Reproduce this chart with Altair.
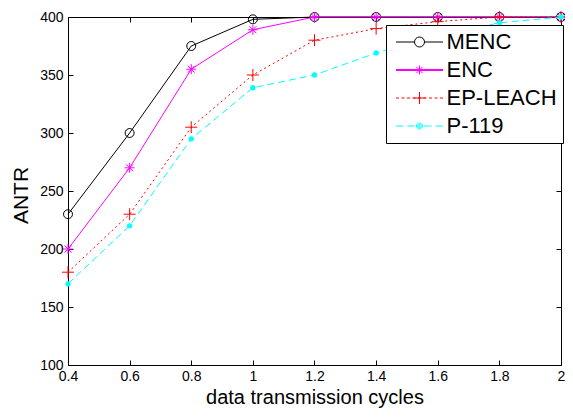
import altair as alt
import pandas as pd

# ---------------- data ----------------
x_vals = [0.4, 0.6, 0.8, 1.0, 1.2, 1.4, 1.6, 1.8, 2.0]
series_names = ["MENC", "ENC", "EP-LEACH", "P-119"]
menc = [230, 300, 375, 398, 400, 400, 400, 400, 400]
enc = [200, 270, 355, 389, 400, 400, 400, 400, 400]
ep_leach = [180, 230, 305, 350, 380, 390, 396, 400, 400]
p119 = [170, 220, 295, 339, 350, 369, 384, 395, 400]
x_ticks = [0.4, 0.6, 0.8, 1.0, 1.2, 1.4, 1.6, 1.8, 2.0]
y_ticks = [100, 150, 200, 250, 300, 350, 400]
x_title = "data transmission cycles"
y_title = "ANTR"

values = [menc, enc, ep_leach, p119]
rows = []
for name, vals in zip(series_names, values):
    for xv, yv in zip(x_vals, vals):
        rows.append({"x": xv, "y": yv, "series": name})
df = pd.DataFrame(rows)

FONT = "Liberation Sans"
W, H = 493, 348

# ---------------- styles ----------------
colors = {"MENC": "#000000", "ENC": "#ff00ff", "EP-LEACH": "#ff0000", "P-119": "#00ffff"}
dashes = {"MENC": None, "ENC": None, "EP-LEACH": [2, 3], "P-119": [7, 4]}

ASTER = "M-1,0L1,0M0,-1L0,1M-0.7,-0.7L0.7,0.7M-0.7,0.7L0.7,-0.7"
PLUS = "M-1,0L1,0M0,-1L0,1"


def circle(r):
    return "M%.2f,0A%.2f,%.2f 0 1,1 -%.2f,0A%.2f,%.2f 0 1,1 %.2f,0Z" % (r, r, r, r, r, r, r)


def dash_path(x0, x1, dash, gap):
    out = []
    s = x0
    while s < x1:
        e = min(s + dash, x1)
        out.append("M%.2f,0L%.2f,0" % (s, e))
        s += dash + gap
    return "".join(out)


# legend symbols: 1 unit = 5 px (symbolSize 100)
L = 4.7
leg_menc = "M-%.1f,0L-1,0M1,0L%.1f,0" % (L, L) + circle(1.0)
leg_enc = "M-%.1f,-0.1L%.1f,-0.1M-%.1f,0.1L%.1f,0.1" % (L, L, L, L) + \
    "M-0.9,0L0.9,0M0,-0.9L0,0.9M-0.64,-0.64L0.64,0.64M-0.64,0.64L0.64,-0.64"
leg_ep = dash_path(-L, L, 0.6, 0.5) + "M-1.2,0L1.2,0M0,-1.2L0,1.2"
leg_p = "M-4.7,0L-3.2,0M-2.4,0L-0.9,0M0.9,0L2.4,0M3.2,0L4.7,0" + \
    circle(0.6) + circle(0.35) + circle(0.12)

xscale = alt.Scale(domain=[0.4, 2.0], nice=False, zero=False)
yscale = alt.Scale(domain=[100, 400], nice=False, zero=False)

ax_bottom = alt.Axis(orient="bottom", values=x_ticks, format="~g", offset=-5, tickSize=5,
                     domain=False, grid=False, labelPadding=4, labelFlush=False,
                     labelOverlap=False, title=x_title, titleFontSize=20,
                     titleFontWeight="normal", titleFont=FONT, titleBaseline="alphabetic",
                     titleY=43, titleColor="black")
ax_left = alt.Axis(orient="left", values=y_ticks, offset=-5, tickSize=5, domain=False,
                   grid=False, labelPadding=5, labelFlush=False, labelOverlap=False,
                   title=y_title, titleFontSize=21, titleFontWeight="normal", titleFont=FONT,
                   titleBaseline="alphabetic", titleX=-46, titleY=H / 2 + 4, titleColor="black")
ax_top = alt.Axis(orient="top", values=x_ticks, offset=-5, tickSize=5, domain=False,
                  grid=False, labels=False, title=None)
ax_right = alt.Axis(orient="right", values=y_ticks, offset=-5, tickSize=5, domain=False,
                    grid=False, labels=False, title=None)

layers = []
for i, name in enumerate(series_names):
    sub = alt.Chart(df).transform_filter(alt.datum.series == name)
    xa, ya = (ax_bottom, ax_left) if i == 0 else (None, None)
    line_kw = {"color": colors[name], "strokeWidth": 1}
    if dashes[name]:
        line_kw["strokeDash"] = dashes[name]
    line = sub.mark_line(**line_kw).encode(
        x=alt.X("x:Q", scale=xscale, axis=xa),
        y=alt.Y("y:Q", scale=yscale, axis=ya),
    )
    layers.append(line)
    xa2, ya2 = (ax_top, ax_right) if i == 0 else (None, None)
    if name == "MENC":
        pt = sub.mark_point(shape="circle", filled=False, size=80, color=colors[name], strokeWidth=1, opacity=1)
    elif name == "ENC":
        pt = sub.mark_point(shape=ASTER, filled=False, size=100, color=colors[name], strokeWidth=1, opacity=1)
    elif name == "EP-LEACH":
        pt = sub.mark_point(shape=PLUS, filled=False, size=144, color=colors[name], strokeWidth=1, opacity=1)
    else:
        pt = sub.mark_circle(size=28, color=colors[name], opacity=1)
    pt = pt.encode(
        x=alt.X("x:Q", scale=xscale, axis=xa2),
        y=alt.Y("y:Q", scale=yscale, axis=ya2),
    )
    layers.append(pt)

leg = alt.Legend(title=None, orient="none", legendX=318, legendY=8, padding=6,
                 strokeColor="black", fillColor="white", labelFont=FONT, labelFontSize=22,
                 labelColor="black", symbolSize=100, symbolStrokeWidth=1,
                 symbolOffset=16.5, labelOffset=16, rowPadding=6, cornerRadius=0,
                 symbolFillColor="transparent")

legend_layer = alt.Chart(df).mark_point(filled=False, opacity=0, strokeWidth=1).encode(
    x=alt.X("x:Q", scale=xscale, axis=None),
    y=alt.Y("y:Q", scale=yscale, axis=None),
    shape=alt.Shape("series:N", scale=alt.Scale(domain=series_names,
                    range=[leg_menc, leg_enc, leg_ep, leg_p]), legend=leg),
    stroke=alt.Stroke("series:N", scale=alt.Scale(domain=series_names,
                      range=[colors[n] for n in series_names]), legend=leg),
)
layers.append(legend_layer)

chart = alt.layer(*layers).properties(
    width=W, height=H,
    padding={"left": 60, "top": 9, "right": 4, "bottom": 43},
    autosize=alt.AutoSizeParams(type="none"),
    background="white",
).configure_view(
    stroke="black", strokeWidth=1, fill="white"
).configure_axis(
    labelFont=FONT, labelFontSize=14, labelColor="black", tickColor="black",
    tickWidth=1, domainColor="black"
)

chart.save("out.html", embed_options={"renderer": "svg", "actions": False})
